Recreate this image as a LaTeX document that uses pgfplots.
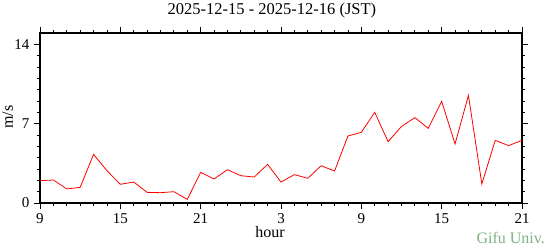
\documentclass[border=0pt]{standalone}
\usepackage{pgfplots}
\pgfplotsset{compat=1.18}
\usepackage{fontspec}
\setmainfont{Liberation Serif}
\definecolor{gifu}{RGB}{128,178,128}
\begin{document}
\begin{tikzpicture}
\useasboundingbox (-40pt,-43pt) rectangle (504pt,203pt);
\begin{axis}[
  at={(0pt,0pt)}, anchor=south west,
  scale only axis, width=482pt, height=170pt,
  xmin=9, xmax=45, ymin=0, ymax=15,
  xtick={9,15,21,27,33,39,45},
  xticklabels={9,15,21,3,9,15,21},
  minor x tick num=5,
  ytick={0,7,14},
  minor y tick num=6,
  tick align=outside,
  major tick length=6pt,
  minor tick length=3pt,
  tick style={black, line width=0.8pt},
  axis line style={black, line width=2pt},
  every tick label/.append style={font=\fontsize{15}{18}\selectfont},
  /pgf/number format/assume math mode=true,
  xticklabel style={yshift=-1pt},
  yticklabel style={xshift=-1pt},
  clip=false,
]
\addplot[red, line width=0.8pt] coordinates {
(9,1.97) (10,2.03) (11,1.24) (12,1.38) (13,4.29) (14,2.85) (15,1.65) (16,1.85)
(17,0.94) (18,0.91) (19,1.0) (20,0.32) (21,2.7) (22,2.12) (23,2.94) (24,2.41)
(25,2.29) (26,3.41) (27,1.85) (28,2.5) (29,2.18) (30,3.29) (31,2.82) (32,5.91)
(33,6.24) (34,8.0) (35,5.41) (36,6.76) (37,7.53) (38,6.59) (39,8.97) (40,5.21)
(41,9.5) (42,1.68) (43,5.53) (44,5.06) (45,5.53)
};
\end{axis}
\node[anchor=base, font=\fontsize{16.5}{19}\selectfont] at (232pt,188pt) {2025-12-15 - 2025-12-16 (JST)};
\node[anchor=base, font=\fontsize{16}{19}\selectfont] at (230pt,-35pt) {hour};
\node[anchor=base, rotate=90, font=\fontsize{16}{19}\selectfont] at (-27pt,86pt) {m/s};
\node[anchor=base east, inner sep=0pt, text=gifu, font=\fontsize{16}{19}\selectfont] at (505pt,-41pt) {Gifu Univ.};
\end{tikzpicture}
\end{document}
